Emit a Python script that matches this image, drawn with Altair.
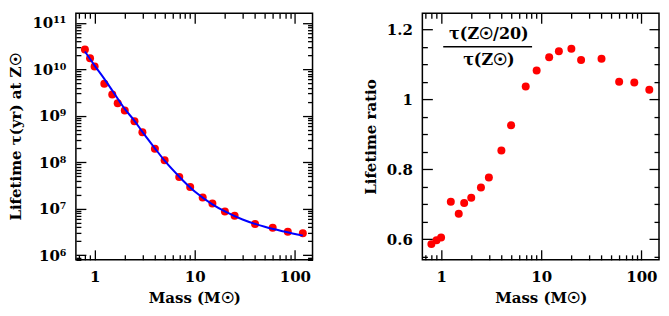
import altair as alt
import pandas as pd

# ---- data ----
mass = [0.8, 0.9, 1.0, 1.25, 1.5, 1.7, 2, 2.5, 3, 4, 5, 7, 9, 12, 15, 20, 25, 40, 60, 85, 120]
lifetime = [2.67e10, 1.72e10, 1.14e10, 4.9e9, 2.85e9, 1.85e9, 1.3e9, 7.6e8, 4.4e8, 1.95e8,
            1.1e8, 4.85e7, 2.95e7, 1.75e7, 1.3e7, 8.8e6, 7.1e6, 4.7e6, 3.9e6, 3.2e6, 3.0e6]
ratio = [0.586, 0.597, 0.605, 0.707, 0.673, 0.704, 0.719, 0.748, 0.777, 0.854, 0.926,
         1.037, 1.083, 1.121, 1.138, 1.145, 1.113, 1.117, 1.051, 1.049, 1.028]

fit_mass = [0.8, 1.0, 1.25, 1.5, 2, 2.5, 3, 4, 5, 7, 10, 15, 20, 30, 50, 80, 120]
fit_life = [2.4e10, 1.2e10, 6.2e9, 3.5e9, 1.4e9, 7.8e8, 4.5e8, 2.0e8, 1.08e8, 4.9e7,
            2.35e7, 1.25e7, 8.8e6, 5.9e6, 4.1e6, 3.2e6, 2.65e6]

ann_x = [3.0, 3.0]
ann_y = [1.188, 1.112]
ann_text = ["τ(Z☉/20)", "τ(Z☉)"]
frac_x = [1.05]
frac_x2 = [8.1]
frac_y = [1.151]

# tick values
x_major = [1, 10, 100]
x_minor = [0.7, 0.8, 0.9, 2, 3, 4, 5, 6, 7, 8, 9, 20, 30, 40, 50, 60, 70, 80, 90]
yl_major = [1e6, 1e7, 1e8, 1e9, 1e10, 1e11]
yl_minor = [k * d for d in [1e5, 1e6, 1e7, 1e8, 1e9, 1e10] for k in [2, 3, 4, 5, 6, 7, 8, 9]
            if 8e5 <= k * d <= 1.6e11]
yr_major = [0.6, 0.8, 1.0, 1.2]
yr_minor = [0.55, 0.65, 0.7, 0.75, 0.85, 0.9, 0.95, 1.05, 1.1, 1.15]

FONT = "DejaVu Serif"
W, H = 237, 247

df_left = pd.DataFrame({"m": mass, "v": lifetime})
df_fit = pd.DataFrame({"m": fit_mass, "v": fit_life})
df_right = pd.DataFrame({"m": mass, "v": ratio})
df_ann = pd.DataFrame({"m": ann_x, "v": ann_y, "t": ann_text})
df_frac = pd.DataFrame({"m": frac_x, "m2": frac_x2, "v": frac_y})

xscale = alt.Scale(type="log", domain=[0.65, 150], nice=False)
yscale_l = alt.Scale(type="log", domain=[8e5, 1.6e11], nice=False)
yscale_r = alt.Scale(type="linear", domain=[0.541, 1.247], nice=False, zero=False)


def tick_axis(orient, vals, L):
    return alt.Axis(orient=orient, values=vals, labels=False, domain=False, grid=False,
                    ticks=True, tickSize=L, offset=-L, title=None,
                    tickColor="black", tickWidth=1.3)


def tick_layers(df, yscale, ymaj, ymin):
    layers = []
    for orient in ["bottom", "top"]:
        for vals, L in [(x_major, 10), (x_minor, 5)]:
            layers.append(alt.Chart(df).mark_point(opacity=0).encode(
                x=alt.X("m:Q", scale=xscale, axis=tick_axis(orient, vals, L)),
                y=alt.Y("v:Q", scale=yscale, axis=None)))
    for orient in ["left", "right"]:
        for vals, L in [(ymaj, 10), (ymin, 5)]:
            layers.append(alt.Chart(df).mark_point(opacity=0).encode(
                x=alt.X("m:Q", scale=xscale, axis=None),
                y=alt.Y("v:Q", scale=yscale, axis=tick_axis(orient, vals, L))))
    return layers


x_label_axis = alt.Axis(orient="bottom", values=x_major, ticks=False, domain=False, grid=False,
                        labelPadding=10, title="Mass (M☉)", titlePadding=6, format="~g")

sup_expr = ("datum.value < 5e6 ? '10⁶' : datum.value < 5e7 ? '10⁷' : datum.value < 5e8 ? '10⁸' : "
            "datum.value < 5e9 ? '10⁹' : datum.value < 5e10 ? '10¹⁰' : '10¹¹'")

left_pts = alt.Chart(df_left).mark_circle(size=64, color="#ff0000", opacity=1).encode(
    x=alt.X("m:Q", scale=xscale, axis=x_label_axis),
    y=alt.Y("v:Q", scale=yscale_l,
            axis=alt.Axis(orient="left", values=yl_major, ticks=False, domain=False, grid=False,
                          labelPadding=10, labelExpr=sup_expr,
                          title="Lifetime τ(yr) at Z☉", titlePadding=8)))
left_line = alt.Chart(df_fit).mark_line(color="#0000ff", strokeWidth=2, interpolate="monotone").encode(
    x=alt.X("m:Q", scale=xscale, axis=None),
    y=alt.Y("v:Q", scale=yscale_l, axis=None))

left = alt.layer(left_pts, left_line, *tick_layers(df_left, yscale_l, yl_major, yl_minor)).resolve_axis(
    x="independent", y="independent").properties(width=W, height=H)

right_pts = alt.Chart(df_right).mark_circle(size=64, color="#ff0000", opacity=1).encode(
    x=alt.X("m:Q", scale=xscale, axis=x_label_axis),
    y=alt.Y("v:Q", scale=yscale_r,
            axis=alt.Axis(orient="left", values=yr_major, ticks=False, domain=False, grid=False,
                          labelPadding=10, format="~g",
                          title="Lifetime ratio", titlePadding=8)))
right_ann = alt.Chart(df_ann).mark_text(font=FONT, fontSize=16, fontWeight="bold", color="black").encode(
    x=alt.X("m:Q", scale=xscale, axis=None),
    y=alt.Y("v:Q", scale=yscale_r, axis=None),
    text="t:N")
right_frac = alt.Chart(df_frac).mark_rule(color="black", strokeWidth=1.3).encode(
    x=alt.X("m:Q", scale=xscale, axis=None),
    x2="m2:Q",
    y=alt.Y("v:Q", scale=yscale_r, axis=None))

right = alt.layer(right_pts, right_ann, right_frac, *tick_layers(df_right, yscale_r, yr_major, yr_minor)).resolve_axis(
    x="independent", y="independent").properties(width=W, height=H)

chart = alt.hconcat(left, right, spacing=48).properties(
    padding={"left": 0, "top": 3, "right": 0, "bottom": 0}
).configure_view(stroke="black", strokeWidth=1.5).configure_axis(
    labelFont=FONT, titleFont=FONT, labelFontSize=15, titleFontSize=15,
    labelFontWeight="bold", titleFontWeight="bold", labelColor="black", titleColor="black"
)

chart.save("out.html", embed_options={"renderer": "svg", "actions": False})
